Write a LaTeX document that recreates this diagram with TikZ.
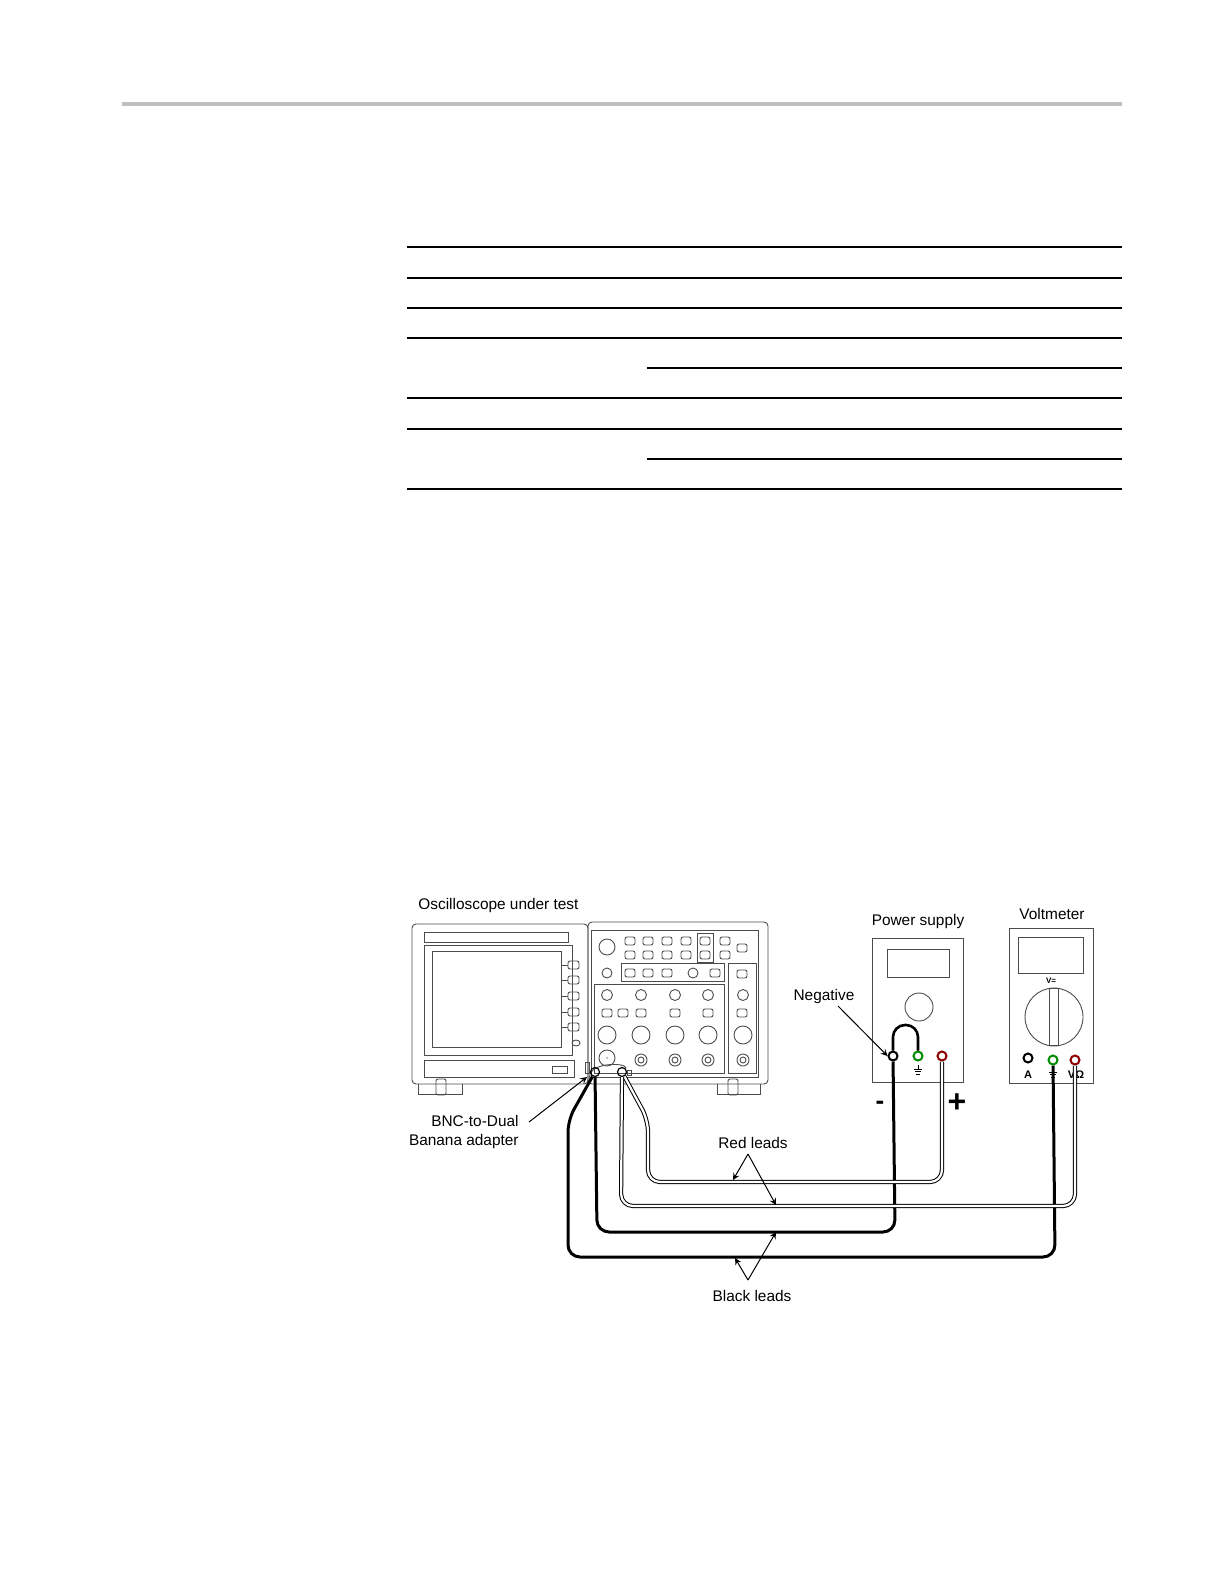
\documentclass[tikz,border=0pt]{standalone}
\usepackage{fontspec}
\setmainfont{Liberation Sans}
\usetikzlibrary{positioning}

\tikzset{
  px/.style={x=0.5pt,y=-0.5pt},
  panel/.style={draw=black!70,line width=0.45pt},
  jack/.style={circle,draw,line width=1pt,minimum size=4.5pt,inner sep=0pt},
  blacklead/.style={line width=1.5pt,rounded corners=6pt},
  redlead/.style={draw=black,line width=0.5pt,double=white,double distance=1.1pt,rounded corners=6pt},
  lbl/.style={font=\fontsize{7.7}{9}\selectfont,inner sep=0pt},
  pointer/.style={-stealth,line width=0.5pt}
}
\newcommand{\gndsym}[1]{%
  \draw[line width=0.5pt] (#1) ++(0,-4) -- ++(0,4) ++(-4,0) -- ++(8,0)
    ++(-7,2.5) -- ++(6,0) ++(-5,2.5) -- ++(4,0);}

\begin{document}
\begin{tikzpicture}[px]
\useasboundingbox (0,0) rectangle (1224,1584);
% page rule and table
\draw[black!25,line width=2pt] (122,104) -- (1122,104);
\foreach \yy in {247,278,308,338,398,429,489}
  \draw[line width=0.6pt] (407,\yy) -- (1122,\yy);
\foreach \yy in {368,459}
  \draw[line width=0.6pt] (647,\yy) -- (1122,\yy);

% oscilloscope
\node[lbl,anchor=west] (scopelbl) at (418,906) {Oscilloscope under test};
\draw[panel,rounded corners=2pt] (412,924) rectangle (588,1084);
\draw[panel,rounded corners=2pt] (588,922) rectangle (768,1084);
\draw[panel] (591,930) rectangle (758,1077);
\draw[panel] (424,932) rectangle (568,942);
\draw[panel] (424,945) rectangle (572,1055);
\draw[panel] (432,951) rectangle (561,1047);
\foreach \yy in {965,980,996,1012,1027}{
  \draw[panel] (561,\yy) -- (568,\yy);
  \draw[panel,rounded corners=1pt] (568,\yy-4) rectangle (579,\yy+4);}
\draw[panel] (576,1043) ellipse (4 and 3);
\draw[panel] (424,1060) rectangle (574,1077);
\draw[panel] (552,1066) rectangle (567,1073);
\draw[panel] (585,1062) rectangle (589,1073);
\draw[panel] (418,1084) -- (418,1094) -- (462,1094) -- (462,1084);
\draw[panel,rounded corners=1pt] (436,1079) rectangle (446,1095);
\draw[panel] (717,1084) -- (717,1094) -- (760,1094) -- (760,1084);
\draw[panel,rounded corners=1pt] (728,1079) rectangle (738,1095);
% front panel controls
\draw[panel] (607,947) circle (8);
\foreach \xx in {630,648,667,686,705,725}{
  \draw[panel,rounded corners=1pt] (\xx-5,937) rectangle (\xx+5,945);
  \draw[panel,rounded corners=1pt] (\xx-5,951) rectangle (\xx+5,959);}
\draw[panel] (697,933) rectangle (713,962);
\draw[panel,rounded corners=1pt] (737,944) rectangle (747,952);
\draw[panel] (607,973) circle (5);
\draw[panel] (621,963) rectangle (724,981);
\foreach \xx in {630,648,667,715}
  \draw[panel,rounded corners=1pt] (\xx-5,969) rectangle (\xx+5,977);
\draw[panel] (693,973) circle (5);
\draw[panel] (594,984) rectangle (724,1073);
\draw[panel] (728,963) rectangle (756,1073);
\foreach \xx in {607,641,675,708,743}{
  \draw[panel] (\xx,995) circle (5.5);
  \draw[panel] (\xx,1035) circle (9);}
\foreach \xx in {607,623,641,675,708,742}
  \draw[panel,rounded corners=1pt] (\xx-5,1009) rectangle (\xx+5,1017);
\draw[panel,rounded corners=1pt] (737,970) rectangle (747,978);
\draw[panel] (607,1058) circle (8);
\fill (607,1058) circle (0.6);
\foreach \xx in {641,675,708,743}{
  \draw[panel] (\xx,1060) circle (6);
  \draw[panel] (\xx,1060) circle (3);}
% BNC-to-dual banana adapter
\draw[panel] (590,1080) .. controls (585,1062) and (626,1062) .. (626,1068);
\node[jack,line width=0.6pt] (adblk) at (595,1072) {};
\node[jack,line width=0.6pt] (adred) at (622,1072) {};
\draw[panel] (627,1070) rectangle (631,1075);

% power supply
\node[lbl] (pslbl) at (918,922) {Power supply};
\draw[panel] (872,938) rectangle (963,1082);
\draw[panel] (887,949) rectangle (949,977);
\draw[panel] (919,1007) circle (14);
\node[jack] (psneg) at (893,1056) {};
\node[jack,draw=green!55!black] (psgnd) at (918,1056) {};
\node[jack,draw=red!55!black] (pspos) at (942,1056) {};
\gndsym{918,1069}
\node[lbl,font=\fontsize{13}{13}\selectfont\bfseries] (minus) at (880,1105) {-};
\node[lbl,font=\fontsize{16}{16}\selectfont\bfseries] (plus) at (957,1103) {+};
\draw[line width=1.3pt,rounded corners=6pt] (psneg.north) -- (893,1025) -- (918,1025) -- (psgnd.north);
\node[lbl] (neglbl) at (824,997) {Negative};
\draw[pointer] (838,1006) -- (psneg.west);

% voltmeter
\node[lbl] (vmlbl) at (1052,914) {Voltmeter};
\draw[panel] (1009,928) rectangle (1093,1083);
\draw[panel] (1018,937) rectangle (1083,973);
\node[lbl,font=\fontsize{4}{4}\selectfont\bfseries] (vsel) at (1051,981) {V=};
\draw[panel] (1054,1017) circle (29);
\draw[panel] (1049,988) rectangle (1058,1045);
\node[jack] (vma) at (1028,1058) {};
\node[jack,draw=green!55!black] (vmgnd) at (1053,1060) {};
\node[jack,draw=red!55!black] (vmv) at (1075,1060) {};
\node[lbl,font=\fontsize{5.5}{5.5}\selectfont\bfseries] (albl) at (1028,1075) {A};
\gndsym{1053,1072}
\node[lbl,font=\fontsize{5.5}{5.5}\selectfont\bfseries] (vlbl) at (1076,1075) {VΩ};

% leads
\draw[blacklead] (adblk) -- (597,1232) -- (895,1232) -- (psneg);
\draw[blacklead] (adblk) -- (568,1120) -- (568,1257) -- (1055,1257) -- (vmgnd);
\draw[redlead] (adred) -- (648,1120) -- (648,1182) -- (942,1182) -- (pspos);
\draw[redlead] (adred) -- (621,1206) -- (1075,1206) -- (vmv);

% callouts
\node[lbl,anchor=east] (bnclbl) at (519,1121) {BNC-to-Dual};
\node[lbl,anchor=east] (bnclbl2) at (519,1142) {Banana adapter};
\draw[pointer] (529,1122) -- (587,1077);
\node[lbl] (redlbl) at (753,1143) {Red leads};
\draw[pointer] (748,1154) -- (733,1180);
\draw[pointer] (748,1154) -- (776,1205);
\node[lbl] (blklbl) at (752,1296) {Black leads};
\draw[pointer] (748,1280) -- (735,1258);
\draw[pointer] (748,1280) -- (776,1232);
\end{tikzpicture}
\end{document}
